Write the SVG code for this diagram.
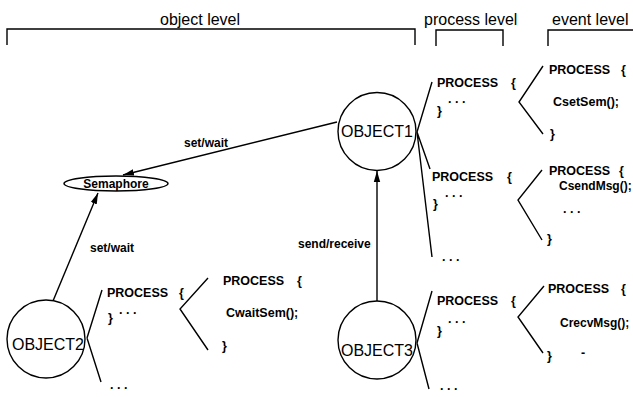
<svg xmlns="http://www.w3.org/2000/svg" width="633" height="397" viewBox="0 0 633 397">
<defs>
<marker id="arr" markerUnits="userSpaceOnUse" markerWidth="12" markerHeight="8" refX="11" refY="4" orient="auto">
<path d="M0,0.8 L11,4 L0,7.2 z" fill="#000"/>
</marker>
<style>
.hdr{font-family:"Liberation Sans",Arial,sans-serif;font-size:16px;fill:#000}
.obj{font-family:"Liberation Sans",Arial,sans-serif;font-size:16px;fill:#000}
.lbl{font-family:"Liberation Sans",Arial,sans-serif;font-size:12px;font-weight:bold;fill:#000}
.code{font-family:"Liberation Sans",Arial,sans-serif;font-size:12.5px;font-weight:bold;fill:#000}
.ln{fill:none;stroke:#000;stroke-width:1.4}
.node{fill:#fff;stroke:#000;stroke-width:1.4}
</style>
</defs>
<rect width="633" height="397" fill="#fff"/>

<g id="headers">
<path class="ln" d="M7,45 V29 H415 V45"/>
<path class="ln" d="M436,46 V30 H503 V46"/>
<path class="ln" d="M548,46 V30 H633"/>
<text class="hdr" x="160" y="25">object level</text>
<text class="hdr" x="424" y="25">process level</text>
<text class="hdr" x="552" y="25">event level</text>
</g>

<g id="connectors">
<line class="ln" x1="337" y1="122" x2="123" y2="175" marker-end="url(#arr)"/>
<line class="ln" x1="53" y1="301" x2="98" y2="193" marker-end="url(#arr)"/>
<line class="ln" x1="377" y1="301" x2="377" y2="171" marker-end="url(#arr)"/>
<text class="lbl" x="184" y="147">set/wait</text>
<text class="lbl" x="90" y="252">set/wait</text>
<text class="lbl" x="298" y="248">send/receive</text>
<path class="ln" d="M417,132 L432,82 M417,132 L430,169 M417,132 L432,257"/>
<path class="ln" d="M417,343 L432,291 M417,343 L429,389"/>
<path class="ln" d="M87,338 L102,290 M87,338 L101,382"/>
<path class="ln" d="M543,66 L519,102 L543,134"/>
<path class="ln" d="M542,170 L518,200 L542,240"/>
<path class="ln" d="M544,286 L518,317 L543,353"/>
<path class="ln" d="M208,278 L180,309 L208,350"/>
</g>

<g id="semaphore">
<ellipse class="node" cx="116" cy="183.5" rx="52" ry="7.5"/>
<text class="lbl" x="116" y="188" text-anchor="middle">Semaphore</text>
</g>

<g id="object1">
<circle class="node" cx="377" cy="131.5" r="39"/>
<text class="obj" x="377" y="137" text-anchor="middle">OBJECT1</text>
</g>

<g id="object2">
<circle class="node" cx="46" cy="339" r="39"/>
<text class="obj" x="48" y="350" text-anchor="middle">OBJECT2</text>
</g>

<g id="object3">
<circle class="node" cx="377" cy="340" r="39"/>
<text class="obj" x="377" y="356" text-anchor="middle">OBJECT3</text>
</g>

<g id="process1">
<text class="code" x="437" y="87">PROCESS</text>
<text class="code" x="511" y="87">{</text>
<text class="code" x="448" y="103">. . .</text>
<text class="code" x="437" y="115">}</text>
</g>

<g id="process2">
<text class="code" x="432" y="181">PROCESS</text>
<text class="code" x="507" y="181">{</text>
<text class="code" x="445" y="197">. . .</text>
<text class="code" x="433" y="208">}</text>
</g>

<g id="process-more1">
<text class="code" x="442" y="261">. . .</text>
</g>

<g id="process3">
<text class="code" x="437" y="305">PROCESS</text>
<text class="code" x="511" y="305">{</text>
<text class="code" x="448" y="323">. . .</text>
<text class="code" x="437" y="335">}</text>
</g>

<g id="process-more3">
<text class="code" x="440" y="390">. . .</text>
</g>

<g id="process4">
<text class="code" x="107" y="297">PROCESS</text>
<text class="code" x="179" y="297">{</text>
<text class="code" x="119" y="314">. . .</text>
<text class="code" x="108" y="322">}</text>
</g>

<g id="process-more2">
<text class="code" x="110" y="389">. . .</text>
</g>

<g id="event1">
<text class="code" x="549" y="74">PROCESS</text>
<text class="code" x="621" y="74">{</text>
<text class="code" x="553" y="106">CsetSem();</text>
<text class="code" x="550" y="138">}</text>
</g>

<g id="event2">
<text class="code" x="549" y="175">PROCESS</text>
<text class="code" x="619" y="175">{</text>
<text class="code" x="559" y="190" style="font-size:12px">CsendMsg();</text>
<text class="code" x="563" y="213">. . .</text>
<text class="code" x="547" y="243">}</text>
</g>

<g id="event3">
<text class="code" x="548" y="293">PROCESS</text>
<text class="code" x="621" y="293">{</text>
<text class="code" x="560" y="327" style="font-size:12px">CrecvMsg();</text>
<text class="code" x="547" y="360">}</text>
<text class="code" x="581" y="357">-</text>
</g>

<g id="event4">
<text class="code" x="223" y="285">PROCESS</text>
<text class="code" x="297" y="285">{</text>
<text class="code" x="226" y="317">CwaitSem();</text>
<text class="code" x="222" y="350">}</text>
</g>
</svg>
